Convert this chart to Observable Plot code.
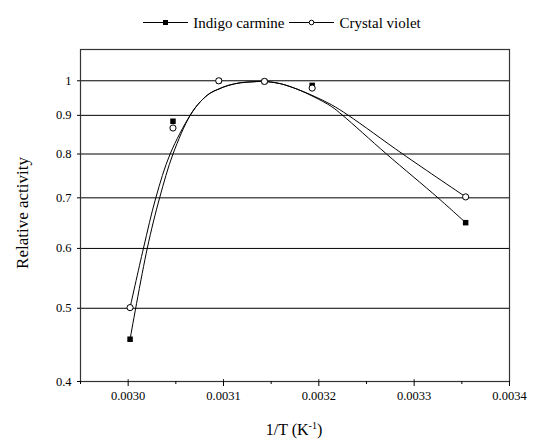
<!DOCTYPE html>
<html><head><meta charset="utf-8">
<script src="https://cdn.jsdelivr.net/npm/d3@7"></script>
<script src="https://cdn.jsdelivr.net/npm/@observablehq/plot@0.6"></script>
<style>
html,body{margin:0;padding:0;background:#fff;overflow:hidden;}
*{font-family:"Liberation Serif",serif !important;}
body{color:#000;}
#legend{position:relative;height:36px;width:533px;}
#legend .row{position:absolute;top:15px;left:0;width:533px;box-sizing:border-box;padding-left:31px;display:flex;justify-content:center;align-items:flex-start;font-size:15px;line-height:17px;}
#legend .row span{margin:0 5px;}
#legend svg{display:block;}
</style></head>
<body>
<div id="legend"></div>
<div id="chart"></div>
<script>
// ---- data ----
const seriesNames = ["Indigo carmine", "Crystal violet"];
const invT = [0.003002, 0.003047, 0.003095, 0.003143, 0.003193, 0.003354];
const indigoCarmine = [0.455, 0.884, 1.0, 0.998, 0.986, 0.649];
const crystalViolet = [0.501, 0.866, 1.0, 0.998, 0.978, 0.702];

// fitted curves
const curveICx = [0.003002, 0.003020, 0.003033, 0.003047, 0.003065, 0.003076, 0.003086, 0.003094, 0.003105, 0.003118, 0.003131, 0.003139, 0.003147, 0.003160, 0.003178, 0.003195, 0.003213, 0.003225, 0.003271, 0.003325, 0.003354];
const curveICy = [0.455, 0.600, 0.700, 0.800, 0.900, 0.939, 0.963, 0.974, 0.986, 0.994, 0.997, 0.998, 0.997, 0.991, 0.974, 0.952, 0.925, 0.900, 0.800, 0.700, 0.649];
const curveCVx = [0.003002, 0.003016, 0.003029, 0.003044, 0.003065, 0.003076, 0.003086, 0.003094, 0.003105, 0.003118, 0.003131, 0.003139, 0.003147, 0.003160, 0.003178, 0.003195, 0.003213, 0.003231, 0.003288, 0.003354];
const curveCVy = [0.501, 0.600, 0.700, 0.800, 0.900, 0.939, 0.963, 0.974, 0.986, 0.994, 0.997, 0.998, 0.997, 0.991, 0.974, 0.954, 0.930, 0.900, 0.800, 0.702];

const yTicks = [0.4, 0.5, 0.6, 0.7, 0.8, 0.9, 1];
const gridTicks = [0.5, 0.6, 0.7, 0.8, 0.9, 1];
const xMajor = [0.0030, 0.0031, 0.0032, 0.0033, 0.0034];
const xMinor = [0.00295, 0.00305, 0.00315, 0.00325, 0.00335];

const pts = (xs, ys) => xs.map((x, i) => ({x, y: ys[i]}));
const ptsIC = pts(invT, indigoCarmine);
const ptsCV = pts(invT, crystalViolet);
const curveIC = pts(curveICx, curveICy);
const curveCV = pts(curveCVx, curveCVy);

// ---- legend ----
const legend = document.getElementById("legend");
const row = document.createElement("div");
row.className = "row";
function sym(kind){
  const w = 45;
  let s = `<svg width="${w}" height="17"><line x1="0" x2="${w}" y1="7.5" y2="7.5" stroke="#000" stroke-width="1"/>`;
  if (kind === "square") s += `<rect x="${w/2-2.5}" y="5" width="5" height="5" fill="#000"/>`;
  else s += `<circle cx="${w/2}" cy="7.5" r="2.3" fill="#fff" stroke="#000" stroke-width="1"/>`;
  return s + `</svg>`;
}
row.innerHTML = sym("square") + `<span>${seriesNames[0]}</span>` + sym("circle") + `<span style="margin-right:0">${seriesNames[1]}</span>`;
legend.appendChild(row);

// ---- chart ----
const H = 405, MT = 13, MB = 60;
const chart = Plot.plot({
  width: 533, height: H,
  marginTop: MT, marginBottom: MB, marginLeft: 80, marginRight: 24,
  style: {fontFamily: "'Liberation Serif', serif", fontSize: "12.5px", color: "#000", background: "#fff"},
  x: {domain: [0.00295, 0.0034]},
  y: {type: "log", domain: [0.4, 1.1]},
  marks: [
    Plot.ruleY(gridTicks, {stroke: "#000", strokeWidth: 1}),
    Plot.frame({stroke: "#333", strokeWidth: 1.2}),
    Plot.axisY(yTicks, {tickSize: 3, tickPadding: 6, tickFormat: d => d === 1 ? "1" : d.toFixed(1), label: null}),
    Plot.axisX(xMajor, {tickSize: 5, tickPadding: 5, tickFormat: d3.format(".4f"), label: null}),
    Plot.axisX(xMinor, {tickSize: 3, tickFormat: () => "", label: null}),
    Plot.ruleX(xMajor, {insetTop: H - MT - MB - 2, stroke: "#333"}),
    Plot.line(curveIC, {x: "x", y: "y", curve: "catmull-rom", stroke: "#000", strokeWidth: 1}),
    Plot.line(curveCV, {x: "x", y: "y", curve: "catmull-rom", stroke: "#000", strokeWidth: 1}),
    Plot.dot(ptsIC, {x: "x", y: "y", symbol: "square", r: 3.1, fill: "#000", stroke: "none"}),
    Plot.dot(ptsCV, {x: "x", y: "y", symbol: "circle", r: 3.1, fill: "#fff", stroke: "#000", strokeWidth: 1})
  ]
});
document.getElementById("chart").appendChild(chart);

const svg = d3.select(chart);
svg.append("text")
  .attr("transform", "translate(28,177) rotate(-90)")
  .attr("text-anchor", "middle")
  .attr("font-size", 17)
  .attr("fill", "#000")
  .text("Relative activity");
const xl = svg.append("text")
  .attr("x", 294).attr("y", 399)
  .attr("text-anchor", "middle")
  .attr("font-size", 16)
  .attr("fill", "#000");
xl.append("tspan").text("1/T (K");
xl.append("tspan").attr("font-size", 10).attr("dy", -6).text("-1");
xl.append("tspan").attr("dy", 6).text(")");
</script>
</body></html>
